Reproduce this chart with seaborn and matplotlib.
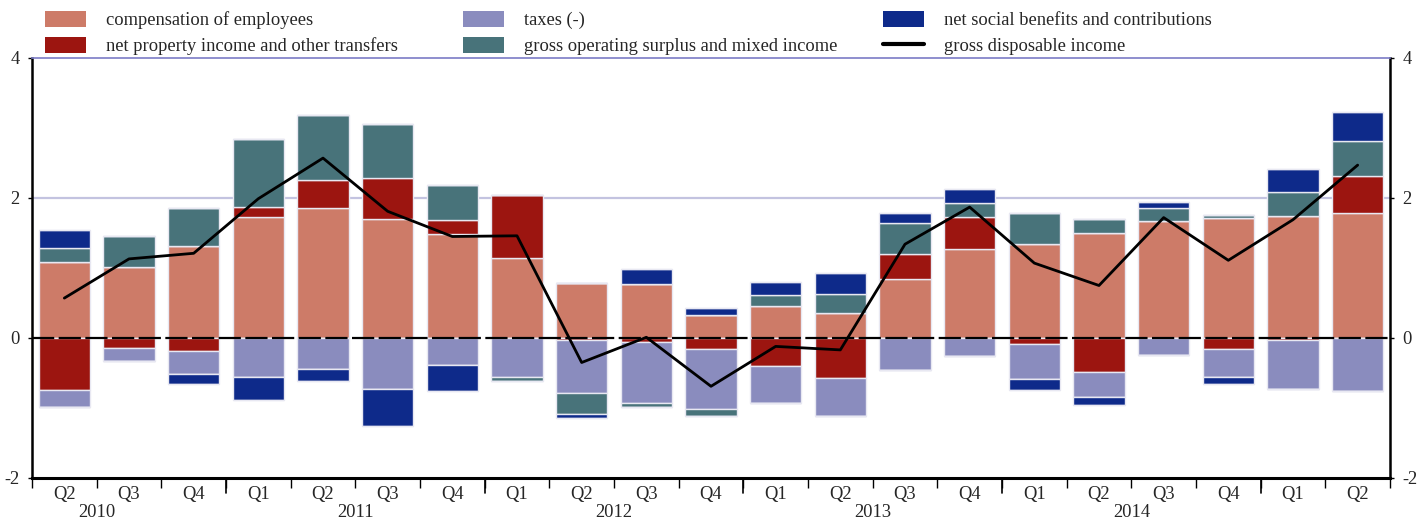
import numpy as np
import pandas as pd
import matplotlib
matplotlib.use("Agg")
import matplotlib.pyplot as plt
from matplotlib.patches import Patch
from matplotlib.lines import Line2D
from matplotlib.transforms import blended_transform_factory
import seaborn as sns

# ---------------- data ----------------
quarters = ["Q2", "Q3", "Q4",
            "Q1", "Q2", "Q3", "Q4",
            "Q1", "Q2", "Q3", "Q4",
            "Q1", "Q2", "Q3", "Q4",
            "Q1", "Q2", "Q3", "Q4",
            "Q1", "Q2"]
years = ["2010", "2011", "2012", "2013", "2014"]
year_pos = [0.5, 4.5, 8.5, 12.5, 16.5]

compensation = [1.08, 1.01, 1.31, 1.73, 1.86, 1.70, 1.49, 1.14, 0.79, 0.77, 0.33,
                0.46, 0.36, 0.85, 1.27, 1.35, 1.50, 1.67, 1.71, 1.75, 1.79]
net_property = [-0.74, -0.14, -0.18, 0.14, 0.40, 0.58, 0.19, 0.91, -0.03, -0.06, -0.15,
                -0.40, -0.57, 0.35, 0.46, -0.08, -0.49, 0.00, -0.15, -0.03, 0.52]
taxes = [-0.25, -0.19, -0.33, -0.55, -0.44, -0.73, -0.39, -0.56, -0.75, -0.87, -0.86,
         -0.53, -0.54, -0.45, -0.26, -0.51, -0.35, -0.24, -0.41, -0.70, -0.76]
gross_operating = [0.20, 0.45, 0.55, 0.97, 0.92, 0.78, 0.51, -0.06, -0.31, -0.05, -0.11,
                   0.15, 0.27, 0.44, 0.20, 0.44, 0.20, 0.19, 0.05, 0.34, 0.51]
net_social = [0.26, 0.00, -0.14, -0.34, -0.18, -0.53, -0.36, 0.00, -0.05, 0.21, 0.10,
              0.19, 0.30, 0.15, 0.20, -0.15, -0.11, 0.08, -0.10, 0.33, 0.41]
gross_disposable = [0.57, 1.13, 1.21, 1.99, 2.57, 1.81, 1.45, 1.46, -0.35, 0.01, -0.69,
                    -0.12, -0.17, 1.34, 1.87, 1.07, 0.75, 1.72, 1.11, 1.69, 2.47]

labels = {
    "comp": "compensation of employees",
    "prop": "net property income and other transfers",
    "tax": "taxes (-)",
    "gop": "gross operating surplus and mixed income",
    "ns": "net social benefits and contributions",
    "gdi": "gross disposable income",
}
colors = {
    "comp": "#CD7B68",
    "prop": "#9C1510",
    "tax": "#8A8CBE",
    "gop": "#48737A",
    "ns": "#0E2A8A",
}
series = {
    "comp": compensation,
    "prop": net_property,
    "tax": taxes,
    "gop": gross_operating,
    "ns": net_social,
}
pos_order = ["comp", "prop", "gop", "ns", "tax"]
neg_order = ["prop", "tax", "gop", "ns", "comp"]

# ---------------- style ----------------
sns.set_theme(style="white")
plt.rcParams["font.family"] = ["Liberation Serif", "DejaVu Serif"]
plt.rcParams["font.size"] = 13

fig = plt.figure(figsize=(14.25, 5.24), dpi=100)
ax = fig.add_axes([32 / 1425, 1 - 478 / 524, (1390 - 32) / 1425, (478 - 58) / 524])

n = len(quarters)
x = np.arange(n)
width = 0.79

pos_base = np.zeros(n)
neg_base = np.zeros(n)
for key in pos_order:
    v = np.array(series[key], dtype=float)
    vp = np.where(v > 0, v, 0.0)
    ax.bar(x, vp, width, bottom=pos_base, color=colors[key],
           edgecolor="#e8e8f2", linewidth=1.0, zorder=3)
    pos_base += vp
for key in neg_order:
    v = np.array(series[key], dtype=float)
    vn = np.where(v < 0, v, 0.0)
    ax.bar(x, vn, width, bottom=neg_base, color=colors[key],
           edgecolor="#e8e8f2", linewidth=1.0, zorder=3)
    neg_base += vn

# gridline at 2 and dashed zero line
ax.axhline(2, color="#c3c3e0", linewidth=1.6, zorder=1)
ax.axhline(0, color="black", linewidth=1.6, linestyle=(0, (10, 2)), zorder=4)

df = pd.DataFrame({"x": x, "gdi": gross_disposable})
sns.lineplot(data=df, x="x", y="gdi", ax=ax, color="black", linewidth=2.0,
             zorder=5, legend=False)

ax.set_xlim(-0.5, n - 0.5)
ax.set_ylim(-2, 4)
ax.set_xlabel("")
ax.set_ylabel("")

# y ticks both sides
ax.set_yticks([-2, 0, 2, 4])
ax.set_yticklabels(["-2", "0", "2", "4"])
ax.tick_params(axis="y", which="major", length=3, width=1, color="black",
               labelsize=13.3, left=True, right=True, labelleft=True, labelright=True,
               pad=6)

# x ticks: quarter labels (no tick marks), minor boundary ticks
ax.set_xticks(x)
ax.set_xticklabels(quarters)
ax.tick_params(axis="x", which="major", length=0, labelsize=13.3, pad=6)
ax.set_xticks(np.arange(-0.5, n, 1.0), minor=True)
ax.tick_params(axis="x", which="minor", length=7, width=1, color="black",
               direction="out", bottom=True)
# longer ticks at year boundaries
trans = blended_transform_factory(ax.transData, ax.transAxes)
for b in [2.5, 6.5, 10.5, 14.5, 18.5]:
    ax.plot([b, b], [0, -0.035], color="black", linewidth=1.2, transform=trans,
            clip_on=False, zorder=6)
for yr, p in zip(years, year_pos):
    ax.text(p, -0.083, yr, transform=trans, ha="center", va="center", fontsize=13.3)

for side in ["left", "right", "bottom"]:
    ax.spines[side].set_color("black")
ax.spines["left"].set_linewidth(1.8)
ax.spines["right"].set_linewidth(1.8)
ax.spines["bottom"].set_linewidth(2.2)
ax.spines["top"].set_color("#7b7bc6")
ax.spines["top"].set_linewidth(1.2)
ax.grid(False)

# ---------------- legend (three columns) ----------------
def patch(k):
    return Patch(facecolor=colors[k], edgecolor="none", label=labels[k])

cols = [
    ([patch("comp"), patch("prop")], 45),
    ([patch("tax"), patch("gop")], 463),
    ([patch("ns"), Line2D([0], [0], color="black", linewidth=3, label=labels["gdi"])], 883),
]
for handles, x0 in cols:
    fig.legend(handles=handles, loc="upper left",
               bbox_to_anchor=(x0 / 1425, 1 - 11 / 524),
               frameon=False, fontsize=13.3, handlelength=2.2, handleheight=0.95,
               handletextpad=1.1, labelspacing=0.4, borderpad=0, borderaxespad=0)

fig.savefig("out.png", dpi=100)
